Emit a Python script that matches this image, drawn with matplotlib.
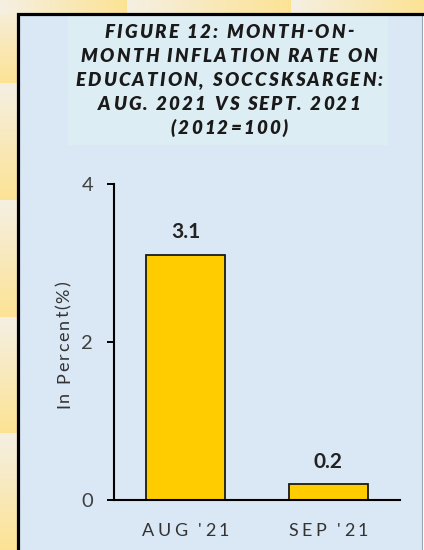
import matplotlib
matplotlib.use('Agg')
import matplotlib.pyplot as plt
import numpy as np
from matplotlib.patches import Rectangle

# ---- data ----
categories = ["AUG '21", "SEP '21"]
values = [3.1, 0.2]
value_labels = ["3.1", "0.2"]
yticks = [0, 2, 4]
title_lines = ["FIGURE 12: MONTH-ON-",
               "MONTH INFLATION RATE ON",
               "EDUCATION, SOCCSKSARGEN:",
               "AUG. 2021 VS SEPT. 2021",
               "(2012=100)"]
ylabel = "In Percent(%)"

W, H = 424, 550
FONT = ['Lato', 'DejaVu Sans']
plt.rcParams['font.family'] = FONT

fig = plt.figure(figsize=(W / 100, H / 100), dpi=100)
renderer = fig.canvas.get_renderer()

# ---- background decoration (pixel coordinates) ----
bg = fig.add_axes([0, 0, 1, 1])
bg.axis('off')
cream = np.array([0.96, 0.94, 0.89])
yellow = np.array([0.99, 0.89, 0.58])
t = np.linspace(0, 1, 64)[:, None]
grad = cream * (1 - t) + yellow * t
for y0, y1 in [(0, 83), (83, 200), (200, 317), (317, 433), (433, 550)]:
    bg.imshow(grad[:, None, :], extent=(0, 18, y1, y0), aspect='auto',
              interpolation='bilinear', zorder=0)
for x0, x1 in [(0, 127), (127, 291), (291, 424)]:
    bg.imshow(grad[None, :, :], extent=(x0, x1, 14, 0), aspect='auto',
              interpolation='bilinear', zorder=0)
bg.add_patch(Rectangle((18, 14), 404, 540, facecolor='#dae7f4',
                       edgecolor='#9aa6b2', linewidth=0.8, zorder=1))
bg.add_patch(Rectangle((68, 16), 320, 129, facecolor='#ddedf4',
                       edgecolor='none', zorder=2))
bg.plot([17.5, 17.5, W + 2], [H + 2, 14, 14], color='black', lw=2.3,
        solid_joinstyle='miter', zorder=3)
bg.set_xlim(0, W)
bg.set_ylim(H, 0)


def _width(txt, kw):
    tt = fig.text(0, 0, txt, **kw)
    w = tt.get_window_extent(renderer).width
    tt.remove()
    return w


def _positions(s, track, kw):
    wx = _width("X", kw)
    pos = [_width(s[:i] + "X", kw) - wx + i * track for i in range(len(s))]
    total = _width(s, kw) + track * (len(s) - 1)
    return pos, total


def tracked(xc, y, s, track, **kw):
    """Horizontal text centred at pixel xc, baseline at pixel y (from top), letter spaced."""
    pos, total = _positions(s, track, kw)
    x0 = xc - total / 2
    for i, ch in enumerate(s):
        if ch != ' ':
            fig.text((x0 + pos[i]) / W, 1 - y / H, ch, ha='left', va='baseline', **kw)


def tracked_vertical(xb, yc, s, track, **kw):
    """Text rotated 90 deg, baseline at pixel x xb, centred at pixel yc (from top)."""
    pos, total = _positions(s, track, kw)
    y0 = yc + total / 2  # bottom (pixel from top)
    for i, ch in enumerate(s):
        if ch != ' ':
            fig.text(xb / W, 1 - (y0 - pos[i]) / H, ch, rotation=90,
                     rotation_mode='anchor', ha='left', va='baseline', **kw)


# ---- title ----
title_kw = dict(fontsize=13.5, fontweight='heavy', fontstyle='italic', color='#1a1a1a')
for k, line in enumerate(title_lines):
    tracked(229, 37.5 + 24.1 * k, line, 2.2, **title_kw)

# ---- chart ----
ax = fig.add_axes([114 / W, (H - 500) / H, (400 - 114) / W, (500 - 184) / H])
ax.patch.set_visible(False)
x = np.arange(len(categories))
ax.bar(x, values, width=0.55, color='#FFCC00', edgecolor='#1a1a1a',
       linewidth=1.3, zorder=2)
ax.set_xlim(-0.5, 1.5)
ax.set_ylim(0, 4)
ax.set_yticks(yticks)
ax.set_yticklabels([str(v) for v in yticks])
ax.tick_params(axis='y', direction='out', length=5, width=1.4, pad=10,
               labelsize=14.5, labelcolor='#404040', color='black')
ax.set_xticks(x)
ax.set_xticklabels([''] * len(categories))
ax.tick_params(axis='x', length=0)
for s in ['top', 'right']:
    ax.spines[s].set_visible(False)
for s in ['left', 'bottom']:
    ax.spines[s].set_linewidth(1.5)
    ax.spines[s].set_color('black')

for i, (v, lab) in enumerate(zip(values, value_labels)):
    ax.annotate(lab, xy=(i, v), xytext=(0, 12), textcoords='offset points',
                ha='center', va='baseline', fontsize=15, fontweight='bold',
                color='#222222')

# category labels with letter spacing, positioned via the axis scale
fig.canvas.draw()
for i, c in enumerate(categories):
    px, _ = ax.transData.transform((i, 0))
    tracked(px, 536, c, 3.3, fontsize=13, color='#333333')

tracked_vertical(69, 345, ylabel, 1.8, fontsize=13, color='#333333')

fig.savefig('out.png', dpi=100)
